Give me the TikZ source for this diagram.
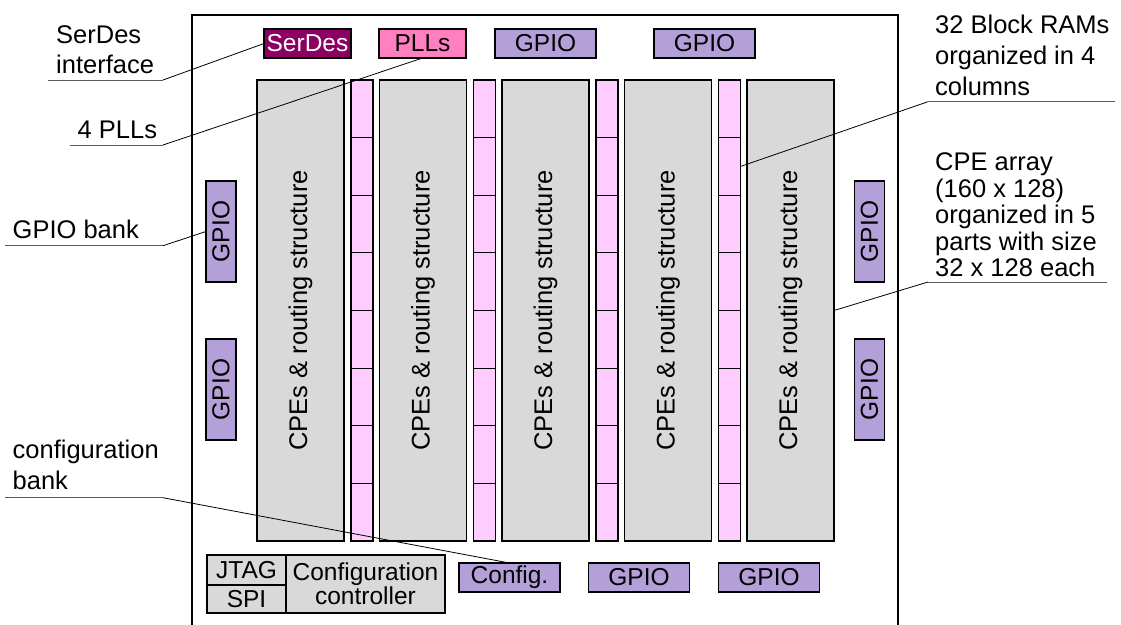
\documentclass[tikz,border=0pt]{standalone}
\usepackage{fontspec}
\setmainfont{Liberation Sans}
\definecolor{cpegray}{HTML}{D9D9D9}
\definecolor{brampink}{HTML}{FFCCFF}
\definecolor{gpiopurple}{HTML}{B4A0D8}
\definecolor{serdescol}{HTML}{8B0062}
\definecolor{pllpink}{HTML}{FF80C0}
\newcommand{\lblfont}{\fontsize{25.5}{30}\selectfont}
\newcommand{\boxfont}{\fontsize{24.5}{28}\selectfont}
\begin{document}
\begin{tikzpicture}[x=1pt,y=-1pt,
  blk/.style={draw, line width=1.1pt, inner sep=0pt, outer sep=0pt, font=\boxfont},
  gpioh/.style={blk, fill=gpiopurple, minimum width=101pt, minimum height=29pt},
  gpiov/.style={blk, fill=gpiopurple, minimum width=30pt, minimum height=101pt},
  cpecol/.style={blk, fill=cpegray, minimum width=87pt, minimum height=461pt},
  bramcell/.style={blk, fill=brampink, minimum width=22pt, minimum height=57.625pt},
  lbl/.style={inner sep=0pt, anchor=base west, font=\lblfont},
  conn/.style={line width=0.8pt, black},
  uline/.style={line width=1pt, black!65}]
\useasboundingbox (0,0) rectangle (1121,624);
% outer frame (bottom is cut off)
\draw[line width=1.2pt] (192,630) -- (192,15) -- (898,15) -- (898,630);
% top row
\node[blk, fill=serdescol, text=white, minimum width=87pt, minimum height=29pt] (serdes) at (307.5,43.5) {SerDes};
\node[blk, fill=pllpink, minimum width=87pt, minimum height=29pt] (plls) at (422.5,43.5) {PLLs};
\node[gpioh] (gt1) at (545.5,43.5) {GPIO};
\node[gpioh] (gt2) at (704.5,43.5) {GPIO};
% side GPIOs
\node[gpiov] (gl1) at (221,231.5) {\rotatebox{90}{GPIO}};
\node[gpiov] (gl2) at (221,389.5) {\rotatebox{90}{GPIO}};
\node[gpiov] (gr1) at (869.5,231.5) {\rotatebox{90}{GPIO}};
\node[gpiov] (gr2) at (869.5,389.5) {\rotatebox{90}{GPIO}};
% CPE columns
\foreach \i in {0,...,4}{
  \node[cpecol] (cpe\i) at ({300.5+122.5*\i},310.5) {\rotatebox{90}{\fontsize{25.5}{28}\selectfont CPEs \& routing structure}};
}
% BRAM columns
\foreach \i in {0,...,3}{
  \foreach \j in {0,...,7}{
    \node[bramcell] (bram\i-\j) at ({362+122.5*\i},{80+57.625*(\j+0.5)}) {};
  }
}
% bottom row
\node[blk, fill=cpegray, minimum width=79pt, minimum height=30pt] (jtag) at (246.5,570) {JTAG};
\node[blk, fill=cpegray, minimum width=79pt, minimum height=28pt] (spi) at (246.5,599) {SPI};
\node[blk, fill=cpegray, minimum width=159pt, minimum height=58pt, align=center] (cfgctl) at (365.5,584) {Configuration\\[-4pt]controller};
\node[gpioh] (cfg) at (509.5,577.5) {Config.};
\node[gpioh] (gb1) at (639,577.5) {GPIO};
\node[gpioh] (gb2) at (769,577.5) {GPIO};
% labels
\node[lbl] (lserdes) at (56,43) {\vtop{\baselineskip=30pt\hbox{SerDes}\hbox{interface}}};
\node[lbl] (lpll) at (77.5,138) {4 PLLs};
\node[lbl] (lgpio) at (12.5,238) {GPIO bank};
\node[lbl] (lcfg) at (12.5,458) {\vtop{\baselineskip=31pt\hbox{configuration}\hbox{bank}}};
\node[lbl] (lbram) at (935,33) {\vtop{\baselineskip=31pt\hbox{32 Block RAMs}\hbox{organized in 4}\hbox{columns}}};
\node[lbl] (lcpe) at (935,170.5) {\vtop{\baselineskip=26.6pt\hbox{CPE array}\hbox{(160 x 128)}\hbox{organized in 5}\hbox{parts with size}\hbox{32 x 128 each}}};
% underline end points
\coordinate (us1) at (48,80);   \coordinate (us2) at (163,80);
\coordinate (up1) at (70,145);  \coordinate (up2) at (163,145);
\coordinate (ug1) at (5,245.7); \coordinate (ug2) at (163,245.7);
\coordinate (uc1) at (5,497.7); \coordinate (uc2) at (163,497.7);
\coordinate (ub1) at (1115,101.7); \coordinate (ub2) at (928,101.7);
\coordinate (ue1) at (1107,282); \coordinate (ue2) at (928,282);
% underlines
\draw[uline] (us1) -- (us2);
\draw[uline] (up1) -- (up2);
\draw[uline] (ug1) -- (ug2);
\draw[uline] (uc1) -- (uc2);
\draw[uline] (ub1) -- (ub2);
\draw[uline] (ue1) -- (ue2);
% connectors
\draw[conn] (us2) -- (serdes.west);
\draw[conn] (up2) -- (plls.south);
\draw[conn] (ug2) -- (gl1.west);
\draw[conn] (uc2) -- (cfg.north);
\draw[conn] (ub2) -- (bram3-1.east);
\draw[conn] (ue2) -- (cpe4.east);
\end{tikzpicture}
\end{document}
